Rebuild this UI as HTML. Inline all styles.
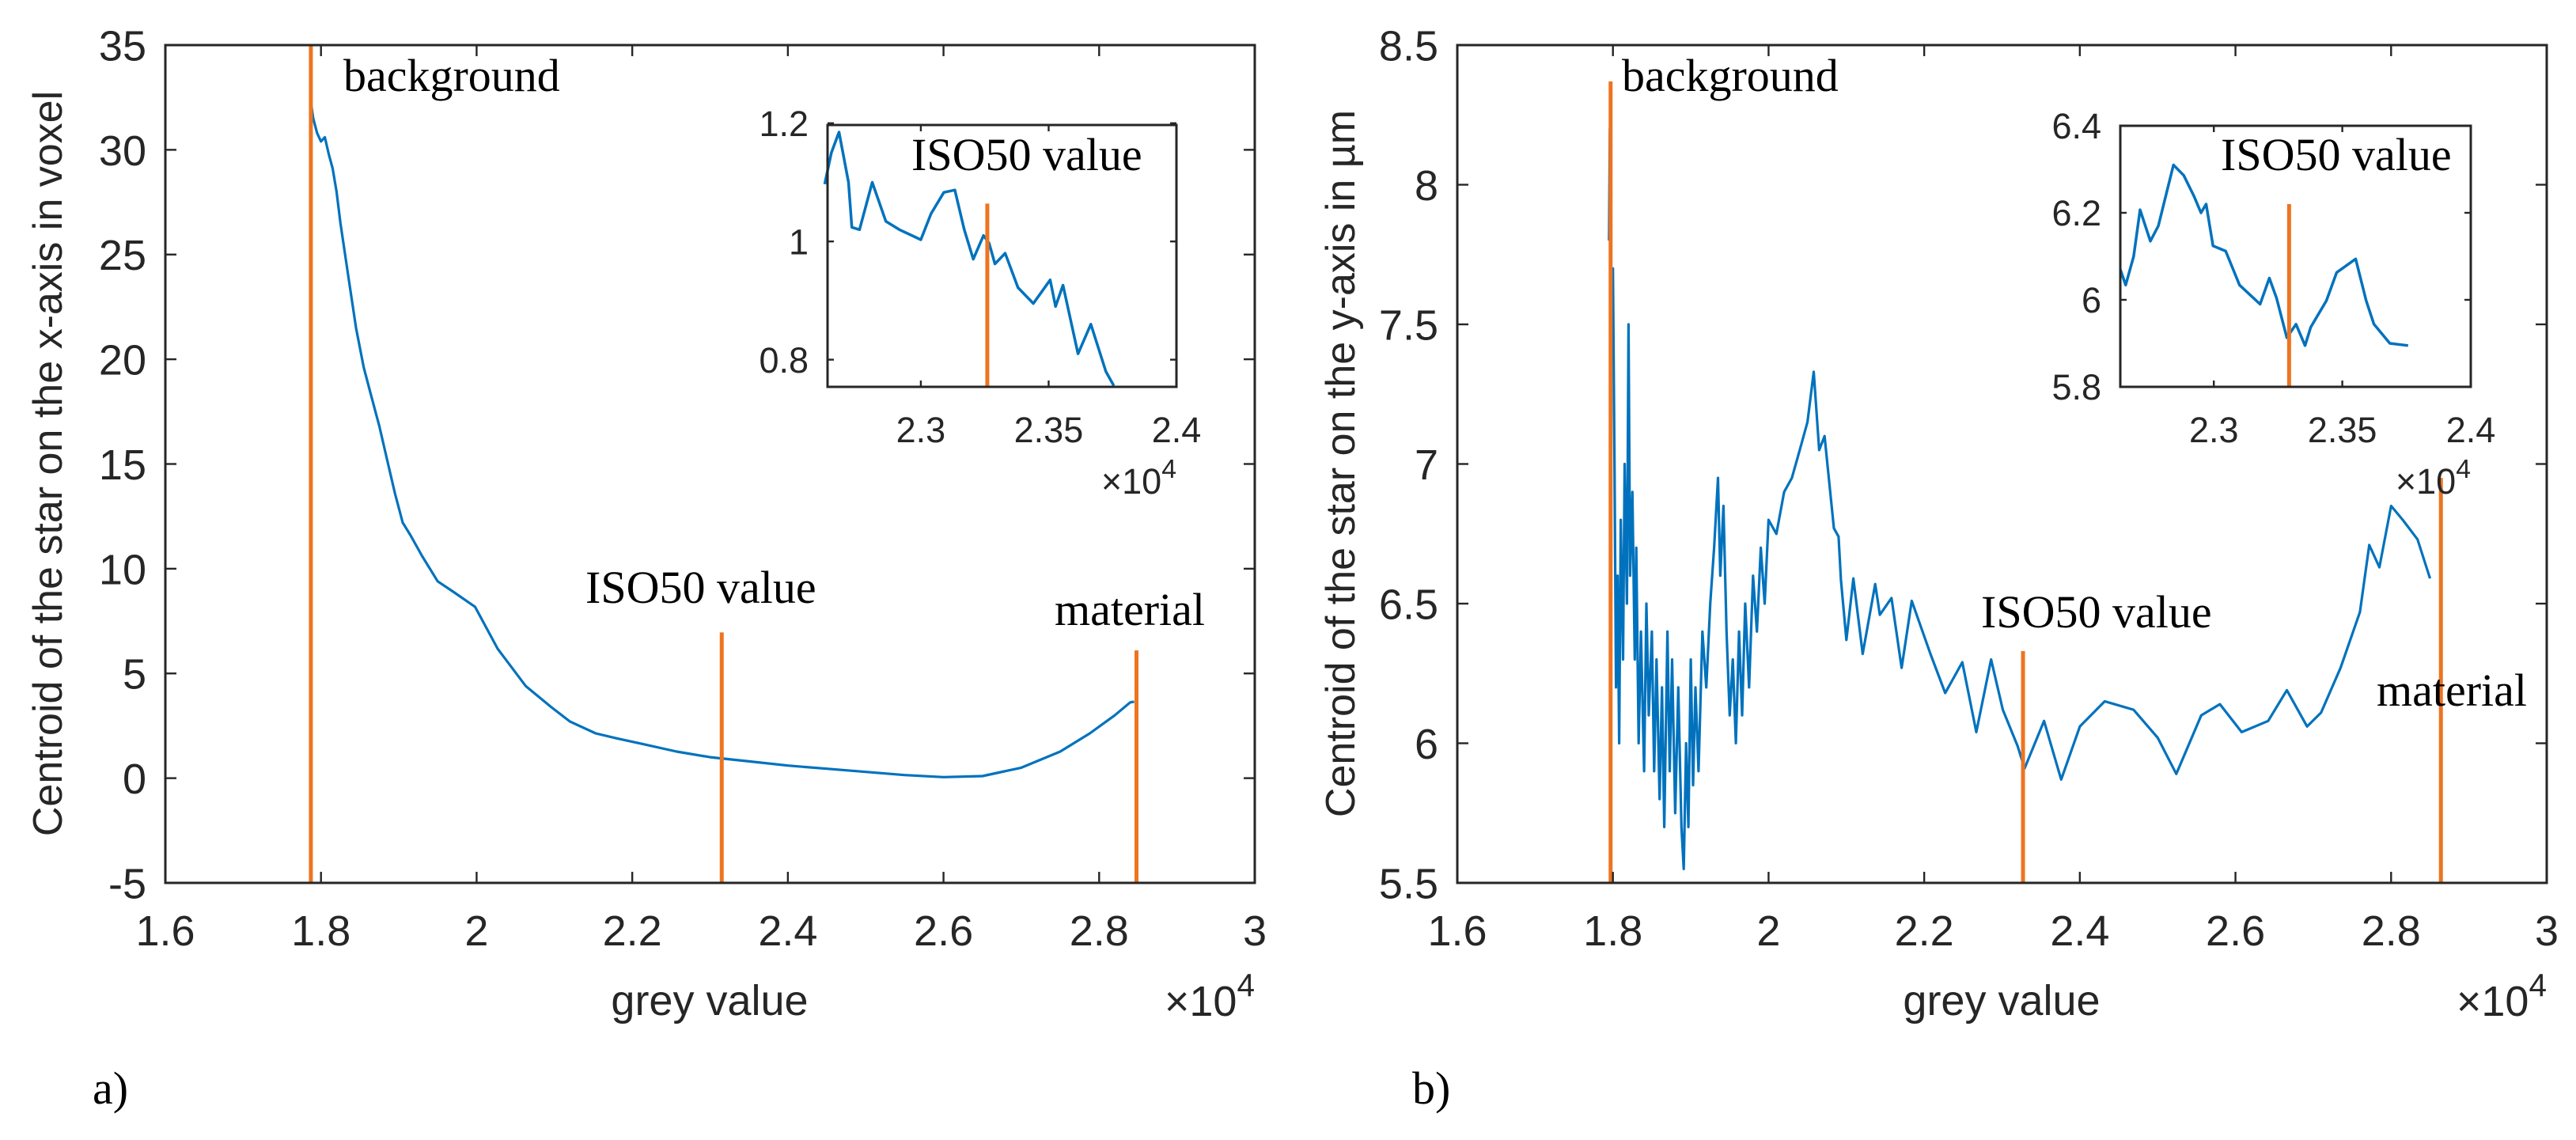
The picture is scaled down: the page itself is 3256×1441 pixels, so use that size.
<!DOCTYPE html>
<html><head><meta charset="utf-8"><style>
html,body{margin:0;padding:0;background:#fff;}
svg{display:block;}
.tk{font-family:"Liberation Sans",Arial,sans-serif;fill:#262626;}
.tm{font-family:"Liberation Serif","Times New Roman",serif;fill:#000;}
</style></head><body>
<svg id="fig" xmlns="http://www.w3.org/2000/svg" width="3256" height="1441" viewBox="0 0 3256 1441">
<rect width="3256" height="1441" fill="#fff"/>
<g id="root"></g>
</svg>
<script>
// ---- Panel a data ----
const aX = [1.787,1.790,1.795,1.800,1.805,1.810,1.815,1.820,1.825,1.835,1.845,1.855,1.865,1.875,1.885,1.895,1.905,1.915,1.93,1.95,1.97,1.998,2.027,2.063,2.095,2.12,2.153,2.18,2.211,2.257,2.30,2.35,2.40,2.45,2.50,2.55,2.60,2.65,2.70,2.75,2.788,2.82,2.840,2.845];
const aY = [32.3,31.5,30.8,30.4,30.6,29.8,29.1,28.0,26.5,24.0,21.5,19.6,18.2,16.8,15.2,13.6,12.2,11.6,10.6,9.4,8.9,8.18,6.18,4.40,3.42,2.7,2.14,1.9,1.65,1.27,1.0,0.8,0.6,0.45,0.3,0.15,0.05,0.1,0.5,1.27,2.14,3.0,3.62,3.65];
// ---- Panel a inset data ----
const aiX = [2.2624,2.265,2.268,2.2717,2.273,2.276,2.281,2.2863,2.2916,2.30,2.304,2.309,2.3133,2.317,2.3205,2.3245,2.3267,2.329,2.333,2.338,2.344,2.3506,2.3527,2.3556,2.3615,2.3665,2.3724,2.3755];
const aiY = [1.097,1.15,1.185,1.10,1.024,1.02,1.10,1.034,1.02,1.003,1.047,1.083,1.087,1.02,0.97,1.01,0.997,0.962,0.98,0.922,0.895,0.935,0.89,0.926,0.81,0.86,0.78,0.756];
// ---- Panel b data ----
const bX = [1.795,1.796,1.797,1.798,1.800,1.802,1.804,1.806,1.808,1.810,1.813,1.815,1.818,1.820,1.822,1.825,1.828,1.830,1.833,1.836,1.840,1.843,1.846,1.850,1.853,1.856,1.860,1.863,1.866,1.870,1.873,1.876,1.880,1.884,1.888,1.891,1.894,1.897,1.900,1.903,1.906,1.910,1.915,1.920,1.925,1.930,1.935,1.938,1.942,1.946,1.950,1.954,1.958,1.962,1.966,1.970,1.975,1.980,1.985,1.990,1.995,2.000,2.010,2.020,2.030,2.040,2.050,2.058,2.065,2.072,2.084,2.090,2.093,2.100,2.109,2.121,2.137,2.143,2.158,2.171,2.184,2.208,2.227,2.249,2.267,2.286,2.301,2.320,2.329,2.354,2.376,2.400,2.432,2.469,2.500,2.524,2.556,2.580,2.608,2.642,2.666,2.692,2.710,2.735,2.760,2.772,2.785,2.800,2.815,2.834,2.850];
const bY = [7.8,8.2,7.9,7.5,7.7,7.0,6.2,6.6,6.0,6.8,6.3,7.0,6.5,7.5,6.6,6.9,6.3,6.7,6.0,6.4,5.9,6.5,6.1,6.4,5.9,6.3,5.8,6.2,5.7,6.4,5.9,6.3,5.75,6.2,5.7,5.55,6.0,5.7,6.3,5.85,6.2,5.9,6.4,6.2,6.5,6.7,6.95,6.6,6.85,6.4,6.1,6.3,6.0,6.4,6.1,6.5,6.2,6.6,6.4,6.7,6.5,6.8,6.75,6.9,6.95,7.05,7.15,7.33,7.05,7.1,6.77,6.74,6.585,6.37,6.59,6.32,6.57,6.46,6.52,6.27,6.51,6.32,6.18,6.29,6.04,6.30,6.12,5.99,5.91,6.08,5.87,6.06,6.15,6.12,6.02,5.89,6.10,6.14,6.04,6.08,6.19,6.06,6.11,6.27,6.47,6.71,6.63,6.85,6.80,6.73,6.59];
// ---- Panel b inset data ----
const biX = [2.2636,2.2657,2.2688,2.2713,2.2753,2.2784,2.2843,2.2883,2.2923,2.295,2.297,2.2997,2.3046,2.31,2.318,2.3216,2.3244,2.3284,2.332,2.3355,2.3377,2.3438,2.3478,2.3552,2.3593,2.3623,2.3685,2.3756];
const biY = [6.07,6.034,6.10,6.207,6.135,6.17,6.31,6.286,6.238,6.20,6.22,6.124,6.112,6.034,5.99,6.05,6.004,5.913,5.944,5.895,5.937,5.998,6.063,6.094,5.998,5.944,5.90,5.895];
// ---- Markers (orange vertical lines) ----
const aMarkX = [1.787,2.315,2.848];
const aMarkTop = [35,6.96,6.1];
const bMarkX = [1.797,2.327,2.864];
const bMarkTop = [8.37,6.33,6.95];
const aiMarkX = [2.326]; const aiMarkTop = [1.064];
const biMarkX = [2.3293]; const biMarkTop = [6.22];
// ---- Tick labels ----
const mainXTicks = [1.6,1.8,2,2.2,2.4,2.6,2.8,3];
const aYTicks = [-5,0,5,10,15,20,25,30,35];
const bYTicks = [5.5,6,6.5,7,7.5,8,8.5];
const insetXTicks = [2.3,2.35,2.4];
const aiYTicks = [0.8,1,1.2];
const biYTicks = [5.8,6,6.2,6.4];

const NS="http://www.w3.org/2000/svg";
const root=document.getElementById('root');
function mk(tag,attrs,parent){const e=document.createElementNS(NS,tag);for(const k in attrs)e.setAttribute(k,attrs[k]);(parent||root).appendChild(e);return e;}
function txt(str,x,y,cls,size,anchor,parent){const t=mk('text',{x:x,y:y,'class':cls,'font-size':size,'text-anchor':anchor||'start'},parent);t.textContent=str;return t;}

function axes(o){
  const g=mk('g',{});
  
  
  const sx=v=>o.x0+(v-o.xmin)/(o.xmax-o.xmin)*(o.x1-o.x0);
  const sy=v=>o.y1-(v-o.ymin)/(o.ymax-o.ymin)*(o.y1-o.y0);
  if(o.fill){const bg=mk('rect',{x:o.x0,y:o.y0,width:o.x1-o.x0,height:o.y1-o.y0,fill:'#fff'},g);
    
    }
  let d='';o.xs.forEach((v,i)=>{d+=(i?'L':'M')+sx(v).toFixed(1)+' '+sy(o.ys[i]).toFixed(1);});
  const p=mk('path',{d:d,fill:'none',stroke:'#0072BD','stroke-width':o.lw,'stroke-linejoin':'round'},g);
  
  
  o.mx.forEach((v,i)=>{const l=mk('line',{x1:sx(v),x2:sx(v),y1:sy(o.mt[i]),y2:o.y1,stroke:'#EE7420','stroke-width':o.ow},g);
    
    });
  const b=mk('rect',{x:o.x0,y:o.y0,width:o.x1-o.x0,height:o.y1-o.y0,fill:'none',stroke:'#262626','stroke-width':o.bw},g);
  
  
  o.xt.forEach(v=>{const x=sx(v);
    mk('line',{x1:x,x2:x,y1:o.y1,y2:o.y1-o.tl,stroke:'#262626','stroke-width':o.bw*0.8},g);
    mk('line',{x1:x,x2:x,y1:o.y0,y2:o.y0+o.tl,stroke:'#262626','stroke-width':o.bw*0.8},g);
    const t=txt(String(v),x,o.y1+o.xlOff,'tk',o.fs,'middle',g);
    
    });
  o.yt.forEach(v=>{const y=sy(v);
    mk('line',{x1:o.x0,x2:o.x0+o.tl,y1:y,y2:y,stroke:'#262626','stroke-width':o.bw*0.8},g);
    mk('line',{x1:o.x1,x2:o.x1-o.tl,y1:y,y2:y,stroke:'#262626','stroke-width':o.bw*0.8},g);
    const t=txt(String(v),o.x0-o.ylGap,y+o.fs*0.36,'tk',o.fs,'end',g);
    
    });
  const e=mk('text',{x:o.x1,y:o.y1+o.expOff,'class':'tk','font-size':o.fs,'text-anchor':'end'},g);
  
  
  e.innerHTML='×10<tspan dy="-'+(o.fs*0.45)+'" font-size="'+(o.fs*0.75)+'">4</tspan>';
  return {sx,sy,g};
}

axes({name:'panel-a',x0:209,x1:1586,y0:57,y1:1116,xmin:1.6,xmax:3,ymin:-5,ymax:35,xs:aX,ys:aY,mx:aMarkX,mt:aMarkTop,xt:mainXTicks,yt:aYTicks,lw:3.2,ow:5,bw:3,tl:14,fs:54,xlOff:79,ylGap:24,expOff:168});
axes({name:'panel-b',x0:1842,x1:3219,y0:57,y1:1116,xmin:1.6,xmax:3,ymin:5.5,ymax:8.5,xs:bX,ys:bY,mx:bMarkX,mt:bMarkTop,xt:mainXTicks,yt:bYTicks,lw:3.2,ow:5,bw:3,tl:14,fs:54,xlOff:79,ylGap:24,expOff:168});
axes({name:'panel-a-inset',fill:true,x0:1046,x1:1487,y0:158,y1:489,xmin:2.2635,xmax:2.4,ymin:0.754,ymax:1.197,xs:aiX,ys:aiY,mx:aiMarkX,mt:aiMarkTop,xt:insetXTicks,yt:aiYTicks,lw:3.5,ow:5,bw:3,tl:8,fs:45,xlOff:70,ylGap:24,expOff:135});
axes({name:'panel-b-inset',fill:true,x0:2680,x1:3123,y0:159,y1:489,xmin:2.2636,xmax:2.4,ymin:5.8,ymax:6.4,xs:biX,ys:biY,mx:biMarkX,mt:biMarkTop,xt:insetXTicks,yt:biYTicks,lw:3.5,ow:5,bw:3,tl:8,fs:45,xlOff:70,ylGap:24,expOff:135});

let t;
t=txt('grey value',897,1283,'tk',54,'middle');


t=txt('grey value',2530,1283,'tk',54,'middle');


t=mk('text',{x:0,y:0,'class':'tk','font-size':52,'text-anchor':'middle',transform:'translate(78 586) rotate(-90)'});
t.textContent='Centroid of the star on the x-axis in voxel';


t=mk('text',{x:0,y:0,'class':'tk','font-size':52,'text-anchor':'middle',transform:'translate(1712 586) rotate(-90)'});
t.textContent='Centroid of the star on the y-axis in µm';



const ann=[
 ['background',434,115,'annotation-background-a'],
 ['ISO50 value',740,762,'annotation-iso50-a'],
 ['material',1333,790,'annotation-material-a'],
 ['ISO50 value',1152,215,'annotation-iso50-inset-a'],
 ['background',2050,115,'annotation-background-b'],
 ['ISO50 value',2504,793,'annotation-iso50-b'],
 ['material',3004,892,'annotation-material-b'],
 ['ISO50 value',2807,215,'annotation-iso50-inset-b']
];
ann.forEach(a=>{const e=txt(a[0],a[1],a[2],'tm',58,'start');
 
 });
t=txt('a)',117,1395,'tm',58,'start');


t=txt('b)',1785,1395,'tm',58,'start');


</script>
</body></html>
